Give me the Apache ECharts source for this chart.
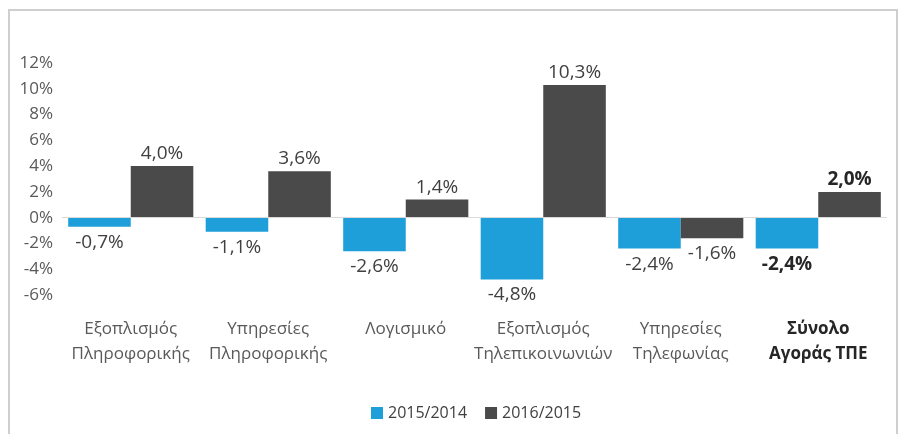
<!DOCTYPE html>
<html>
<head>
<meta charset="utf-8">
<script src="https://cdn.jsdelivr.net/npm/echarts@6/dist/echarts.min.js"></script>
<style>
  html, body { margin: 0; padding: 0; background: #fff; }
  #chart { width: 903px; height: 434px; }
</style>
</head>
<body>
<div id="chart"></div>
<script>
const categories = [
  'Εξοπλισμός\nΠληροφορικής',
  'Υπηρεσίες\nΠληροφορικής',
  'Λογισμικό',
  'Εξοπλισμός\nΤηλεπικοινωνιών',
  'Υπηρεσίες\nΤηλεφωνίας',
  'Σύνολο\nΑγοράς ΤΠΕ',
]
const data1 = [-0.7, -1.1, -2.6, -4.8, -2.4, -2.4] // 2015/2014
const data2 = [4.0, 3.6, 1.4, 10.3, -1.6, 2.0] // 2016/2015
const seriesNames = ['2015/2014', '2016/2015']
const colors = ['#1f9fd9', '#4a4a4a']

const fmt = (v) => v.toFixed(1).replace('.', ',') + '%'

// one label per bar, below when negative; last category in bold
const toItems = (arr) =>
  arr.map((v, i) => ({
    value: v,
    label: {
      position: v < 0 ? 'bottom' : 'top',
      distance: v < 0 ? 6 : 3,
      fontWeight: i === arr.length - 1 ? 'bold' : 'normal',
      color: i === arr.length - 1 ? '#262626' : '#404040',
    },
  }))

var myChart = echarts.init(document.getElementById('chart'))
var option = {
  animation: false,
  textStyle: { fontFamily: 'Open Sans' },
  color: colors,
  graphic: [
    {
      type: 'rect',
      shape: { x: 9, y: 10, width: 888, height: 440 },
      style: { fill: 'none', stroke: '#cfcfcf', lineWidth: 2 },
      silent: true,
    },
  ],
  grid: {
    top: 63,
    bottom: 139,
    left: 62,
    right: 16,
  },
  legend: {
    left: 366,
    top: 400,
    itemWidth: 12,
    itemHeight: 12,
    itemGap: 18,
    icon: 'rect',
    textStyle: { fontSize: 16, color: '#404040', fontFamily: 'Open Sans' },
    data: seriesNames,
  },
  xAxis: {
    type: 'category',
    data: categories,
    axisLine: { show: false, onZero: false },
    axisTick: { show: false },
    axisLabel: {
      margin: 22,
      interval: 0,
      formatter: (value, index) =>
        index === categories.length - 1 ? '{b|' + value + '}' : '{a|' + value + '}',
      rich: {
        a: { fontSize: 17, lineHeight: 25, color: '#595959', fontFamily: 'Open Sans' },
        b: { fontSize: 17, lineHeight: 25, color: '#262626', fontWeight: 'bold', fontFamily: 'Open Sans' },
      },
    },
  },
  yAxis: {
    type: 'value',
    min: -6,
    max: 12,
    interval: 2,
    axisLine: { show: false },
    axisTick: { show: false },
    splitLine: { show: false },
    axisLabel: {
      formatter: '{value}%',
      fontSize: 17,
      color: '#595959',
      margin: 9,
      fontFamily: 'Open Sans',
    },
  },
  series: [
    {
      name: seriesNames[0],
      type: 'bar',
      data: toItems(data1),
      barGap: '0%',
      barCategoryGap: '9%',
      label: { show: true, fontSize: 19, formatter: (p) => fmt(p.value), fontFamily: 'Open Sans' },
      markLine: {
        silent: true,
        symbol: 'none',
        label: { show: false },
        lineStyle: { color: '#d9d9d9', width: 1, type: 'solid' },
        data: [{ yAxis: 0 }],
      },
      z: 3,
    },
    {
      name: seriesNames[1],
      type: 'bar',
      data: toItems(data2),
      barGap: '0%',
      barCategoryGap: '9%',
      label: { show: true, fontSize: 19, formatter: (p) => fmt(p.value), fontFamily: 'Open Sans' },
      z: 3,
    },
  ],
}

option && myChart.setOption(option)
</script>
</body>
</html>
